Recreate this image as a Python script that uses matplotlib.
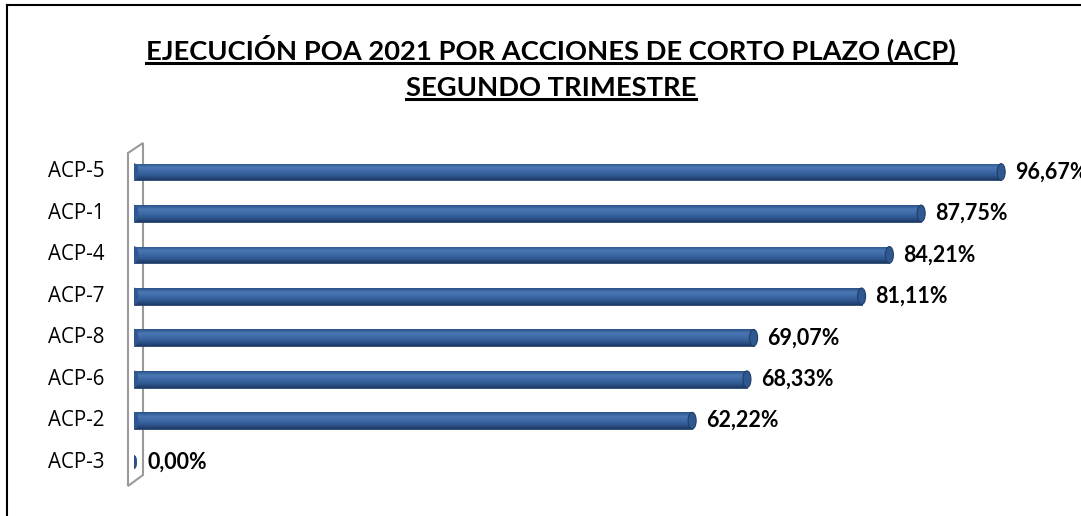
import matplotlib.pyplot as plt
import numpy as np
from matplotlib.patches import Polygon, Ellipse
from matplotlib.lines import Line2D

plt.rcParams['font.family'] = ['Lato', 'DejaVu Sans']

categorias = ['ACP-3', 'ACP-2', 'ACP-6', 'ACP-8', 'ACP-7', 'ACP-4', 'ACP-1', 'ACP-5']
valores = [0.00, 62.22, 68.33, 69.07, 81.11, 84.21, 87.75, 96.67]
titulo = ['EJECUCIÓN POA 2021 POR ACCIONES DE CORTO PLAZO (ACP)', 'SEGUNDO TRIMESTRE']

W, H = 1081, 516
fig = plt.figure(figsize=(W / 100, H / 100), dpi=100)
ax = fig.add_axes([134 / W, 29 / H, 897 / W, 342 / H])
ax.set_xlim(0, 100)
ax.set_ylim(-0.6, 7.65)
ax.axis('off')

# pared lateral (efecto 3D), detrás de las barras
pared = Polygon([(128, H - 153), (143, H - 143), (143, H - 475), (128, H - 486)],
                closed=True, transform=None, facecolor='white', edgecolor='#9a9a9a', lw=1.5, zorder=-1)
fig.patches.append(pared)

# gradiente vertical para dar aspecto de cilindro
grad = np.linspace(0, 1, 64).reshape(-1, 1)
cmap = plt.matplotlib.colors.LinearSegmentedColormap.from_list(
    'cil', ['#1d3a63', '#2f5890', '#3d69a6', '#4a78b4', '#2c5189'])

alto = 0.4
for i, v in enumerate(valores):
    y = i
    if v > 0:
        barra = ax.barh(y, v, height=alto, color='#35609a', edgecolor='#27466f', lw=0.6, zorder=2)[0]
        img = ax.imshow(grad, extent=(0, v, y - alto / 2, y + alto / 2), cmap=cmap,
                        aspect='auto', origin='lower', zorder=3)
        img.set_clip_path(barra)
        # tapas redondeadas
        ax.add_patch(Ellipse((v, y), 0.9, alto, facecolor='#2f5890', edgecolor='#1f3d66', lw=0.8, zorder=4))
        ax.add_patch(Ellipse((0, y), 0.9, alto, facecolor='#2f5890', edgecolor='#2f5890', lw=0.5, zorder=4))
    else:
        ax.add_patch(Ellipse((0, y), 0.6, alto * 0.8, facecolor='#2b5087', edgecolor='#1f3d66', lw=0.5, zorder=4))
    ax.annotate(f'{v:.2f}%'.replace('.', ','), (v, y), xytext=(10, 0), textcoords='offset points',
                va='center', ha='left', fontsize=15.5, fontweight='bold', color='black', zorder=5,
                annotation_clip=False)
    ax.annotate(categorias[i], (0, y), xytext=(-21, 0), textcoords='offset points',
                va='center', ha='right', fontsize=14.8, color='black', family='Open Sans',
                annotation_clip=False)

# título subrayado
t1 = fig.text(551 / W, 1 - 49 / H, titulo[0], ha='center', va='center', fontsize=19.7, fontweight='bold')
t2 = fig.text(551 / W, 1 - 88 / H, titulo[1], ha='center', va='center', fontsize=19.7, fontweight='bold')
fig.canvas.draw()
r = fig.canvas.get_renderer()
for t in (t1, t2):
    bb = t.get_window_extent(r)
    yl = bb.y0 + 1
    fig.lines.append(Line2D([bb.x0, bb.x1], [yl, yl], transform=None, color='black', lw=2.2))

# marco
fig.lines.append(Line2D([7, 7], [0, H - 5], transform=None, color='black', lw=1.5))
fig.lines.append(Line2D([7, W], [H - 5, H - 5], transform=None, color='black', lw=1.5))

fig.savefig('out.png', dpi=100)
